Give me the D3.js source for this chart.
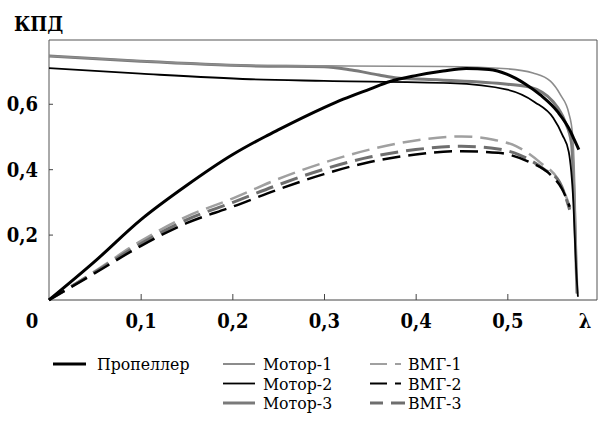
<!DOCTYPE html>
<html>
<head>
    <meta charset="utf-8">
    <title>КПД</title>
    <script src="https://d3js.org/d3.v7.min.js"></script>
    <style>
        body { margin: 0; background: #fff; }
        svg { display: block; }
        svg text { font-family: "DejaVu Serif Condensed", "DejaVu Serif", serif; font-stretch: condensed; }
    </style>
</head>
<body>
    <div id="chart"></div>

    <script>
        // values (λ, КПД)
        const propeller = [[0,0],[0.05,0.118],[0.1,0.245],[0.15,0.35],[0.2,0.444],[0.236,0.5],[0.25,0.52],[0.3,0.588],
            [0.321,0.614],[0.35,0.645],[0.372,0.668],[0.4,0.686],[0.43,0.7],[0.455,0.708],[0.48,0.705],[0.5,0.69],
            [0.52,0.66],[0.536,0.627],[0.555,0.575],[0.569,0.515],[0.573,0.49],[0.578,0.46]];
        const motor1 = [[0,0.746],[0.1,0.731],[0.22,0.717],[0.3,0.716],[0.43,0.714],[0.5,0.707],[0.528,0.694],
            [0.547,0.669],[0.558,0.627],[0.567,0.572],[0.571,0.51],[0.572,0.47],[0.574,0.3],[0.576,0.02]];
        const motor2 = [[0,0.709],[0.1,0.692],[0.22,0.675],[0.3,0.67],[0.438,0.663],[0.5,0.643],[0.53,0.605],
            [0.55,0.557],[0.56,0.505],[0.567,0.453],[0.572,0.3],[0.575,0.1],[0.577,0.01]];
        const motor3 = [[0,0.746],[0.1,0.73],[0.22,0.716],[0.3,0.713],[0.33,0.703],[0.36,0.688],[0.38,0.679],
            [0.427,0.673],[0.5,0.66],[0.523,0.652],[0.55,0.606],[0.563,0.545],[0.57,0.48],[0.573,0.3],[0.576,0.02]];
        const vmg1 = [[0,0],[0.05,0.088],[0.1,0.18],[0.15,0.255],[0.2,0.31],[0.25,0.37],[0.3,0.42],[0.35,0.46],
            [0.4,0.488],[0.45,0.5],[0.485,0.49],[0.51,0.47],[0.536,0.42],[0.555,0.37],[0.565,0.31],[0.571,0.26]];
        const vmg2 = [[0,0],[0.05,0.082],[0.1,0.165],[0.15,0.235],[0.2,0.285],[0.25,0.338],[0.3,0.385],[0.35,0.422],
            [0.4,0.445],[0.45,0.455],[0.49,0.45],[0.523,0.423],[0.547,0.383],[0.56,0.338],[0.568,0.285]];
        const vmg3 = [[0,0],[0.05,0.085],[0.1,0.172],[0.15,0.245],[0.2,0.298],[0.25,0.352],[0.3,0.4],[0.35,0.437],
            [0.4,0.46],[0.45,0.47],[0.49,0.462],[0.513,0.444],[0.54,0.4],[0.557,0.36],[0.568,0.276]];

        const xTicks = [0.1, 0.2, 0.3, 0.4, 0.5];
        const yTicks = [0.2, 0.4, 0.6];

        const width = 598, height = 425;
        const plot = {left: 49, right: 597, top: 40, bottom: 300};

        const svg = d3.select("#chart").append("svg")
            .attr("width", width)
            .attr("height", height);

        const x = d3.scaleLinear().domain([0, 0.6]).range([plot.left, 599]);
        const y = d3.scaleLinear().domain([0, 0.795]).range([plot.bottom, plot.top]);

        const fmt = d3.formatLocale({decimal: ",", thousands: " ", grouping: [3], currency: ["", ""]}).format(".1f");

        // frame
        svg.append("path")
            .attr("d", `M${plot.left},${plot.bottom}V${plot.top}H${plot.right}V${plot.bottom}`)
            .attr("fill", "none")
            .attr("stroke", "#555")
            .attr("stroke-width", 1);

        // axes, ticks point inwards
        const xAxis = svg.append("g")
            .attr("transform", `translate(0,${plot.bottom})`)
            .call(d3.axisBottom(x).tickValues(xTicks).tickSize(-6).tickFormat(fmt));
        xAxis.select(".domain").attr("d", `M${plot.left},0H${plot.right}`).attr("stroke", "#444");
        xAxis.selectAll(".tick text").attr("y", 28).attr("dy", null);

        const yAxis = svg.append("g")
            .attr("transform", `translate(${plot.left},0)`)
            .call(d3.axisLeft(y).tickValues(yTicks).tickSize(-4).tickFormat(fmt));
        yAxis.select(".domain").remove();
        yAxis.selectAll(".tick text").attr("x", -11).attr("dy", "0.36em");

        svg.selectAll(".tick line").attr("stroke", "#444");
        [xAxis, yAxis].forEach(g => g.attr("font-size", 20).attr("font-weight", "bold"));

        const labels = svg.append("g")
            .attr("font-size", 20)
            .attr("font-weight", "bold")
            .attr("fill", "#000");
        labels.append("text")
            .attr("x", x(0) - 17).attr("y", plot.bottom + 28)
            .attr("text-anchor", "middle").text("0");
        labels.append("text")
            .attr("x", 585).attr("y", plot.bottom + 28)
            .attr("text-anchor", "middle").text("λ");
        labels.append("text")
            .attr("x", 14).attr("y", 31).text("КПД");

        // series
        const series = [
            {name: "ВМГ-1", data: vmg1, color: "#a0a0a0", w: 2.5, dash: "18,8"},
            {name: "ВМГ-3", data: vmg3, color: "#6e6e6e", w: 3, dash: "18,8"},
            {name: "ВМГ-2", data: vmg2, color: "#000", w: 2.5, dash: "18,8"},
            {name: "Мотор-3", data: motor3, color: "#7a7a7a", w: 3, dash: null},
            {name: "Мотор-1", data: motor1, color: "#8c8c8c", w: 1.6, dash: null},
            {name: "Мотор-2", data: motor2, color: "#000", w: 1.8, dash: null},
            {name: "Пропеллер", data: propeller, color: "#000", w: 3, dash: null}
        ];

        const line = d3.line()
            .x(d => x(d[0]))
            .y(d => y(d[1]))
            .curve(d3.curveMonotoneX);

        svg.selectAll(".series")
            .data(series)
            .enter().append("path")
            .attr("class", "series")
            .attr("d", d => line(d.data))
            .attr("fill", "none")
            .attr("stroke", d => d.color)
            .attr("stroke-width", d => d.w)
            .attr("stroke-dasharray", d => d.dash);

        // legend
        const legendItems = [
            {name: "Пропеллер", x: 53, row: 0, len: 33, gap: 11, color: "#000", w: 3, dash: null},
            {name: "Мотор-1", x: 223, row: 0, len: 32, gap: 8, color: "#8c8c8c", w: 2, dash: null},
            {name: "Мотор-2", x: 223, row: 1, len: 32, gap: 8, color: "#000", w: 1.8, dash: null},
            {name: "Мотор-3", x: 223, row: 2, len: 32, gap: 8, color: "#7a7a7a", w: 3, dash: null},
            {name: "ВМГ-1", x: 370, row: 0, len: 35, gap: 3, color: "#a0a0a0", w: 2, dash: "17,8,6"},
            {name: "ВМГ-2", x: 370, row: 1, len: 35, gap: 3, color: "#000", w: 2, dash: "17,8,6"},
            {name: "ВМГ-3", x: 370, row: 2, len: 35, gap: 3, color: "#6e6e6e", w: 3, dash: "13,8,14"}
        ];
        const rowY = [364, 383.5, 403];

        const legend = svg.append("g").attr("font-size", 17.5);
        const item = legend.selectAll("g")
            .data(legendItems)
            .enter().append("g")
            .attr("transform", d => `translate(${d.x},${rowY[d.row]})`);
        item.append("line")
            .attr("x1", 0).attr("x2", d => d.len)
            .attr("stroke", d => d.color)
            .attr("stroke-width", d => d.w)
            .attr("stroke-dasharray", d => d.dash);
        item.append("text")
            .attr("x", d => d.len + d.gap)
            .attr("dy", "0.35em")
            .text(d => d.name);
    </script>
</body>
</html>
